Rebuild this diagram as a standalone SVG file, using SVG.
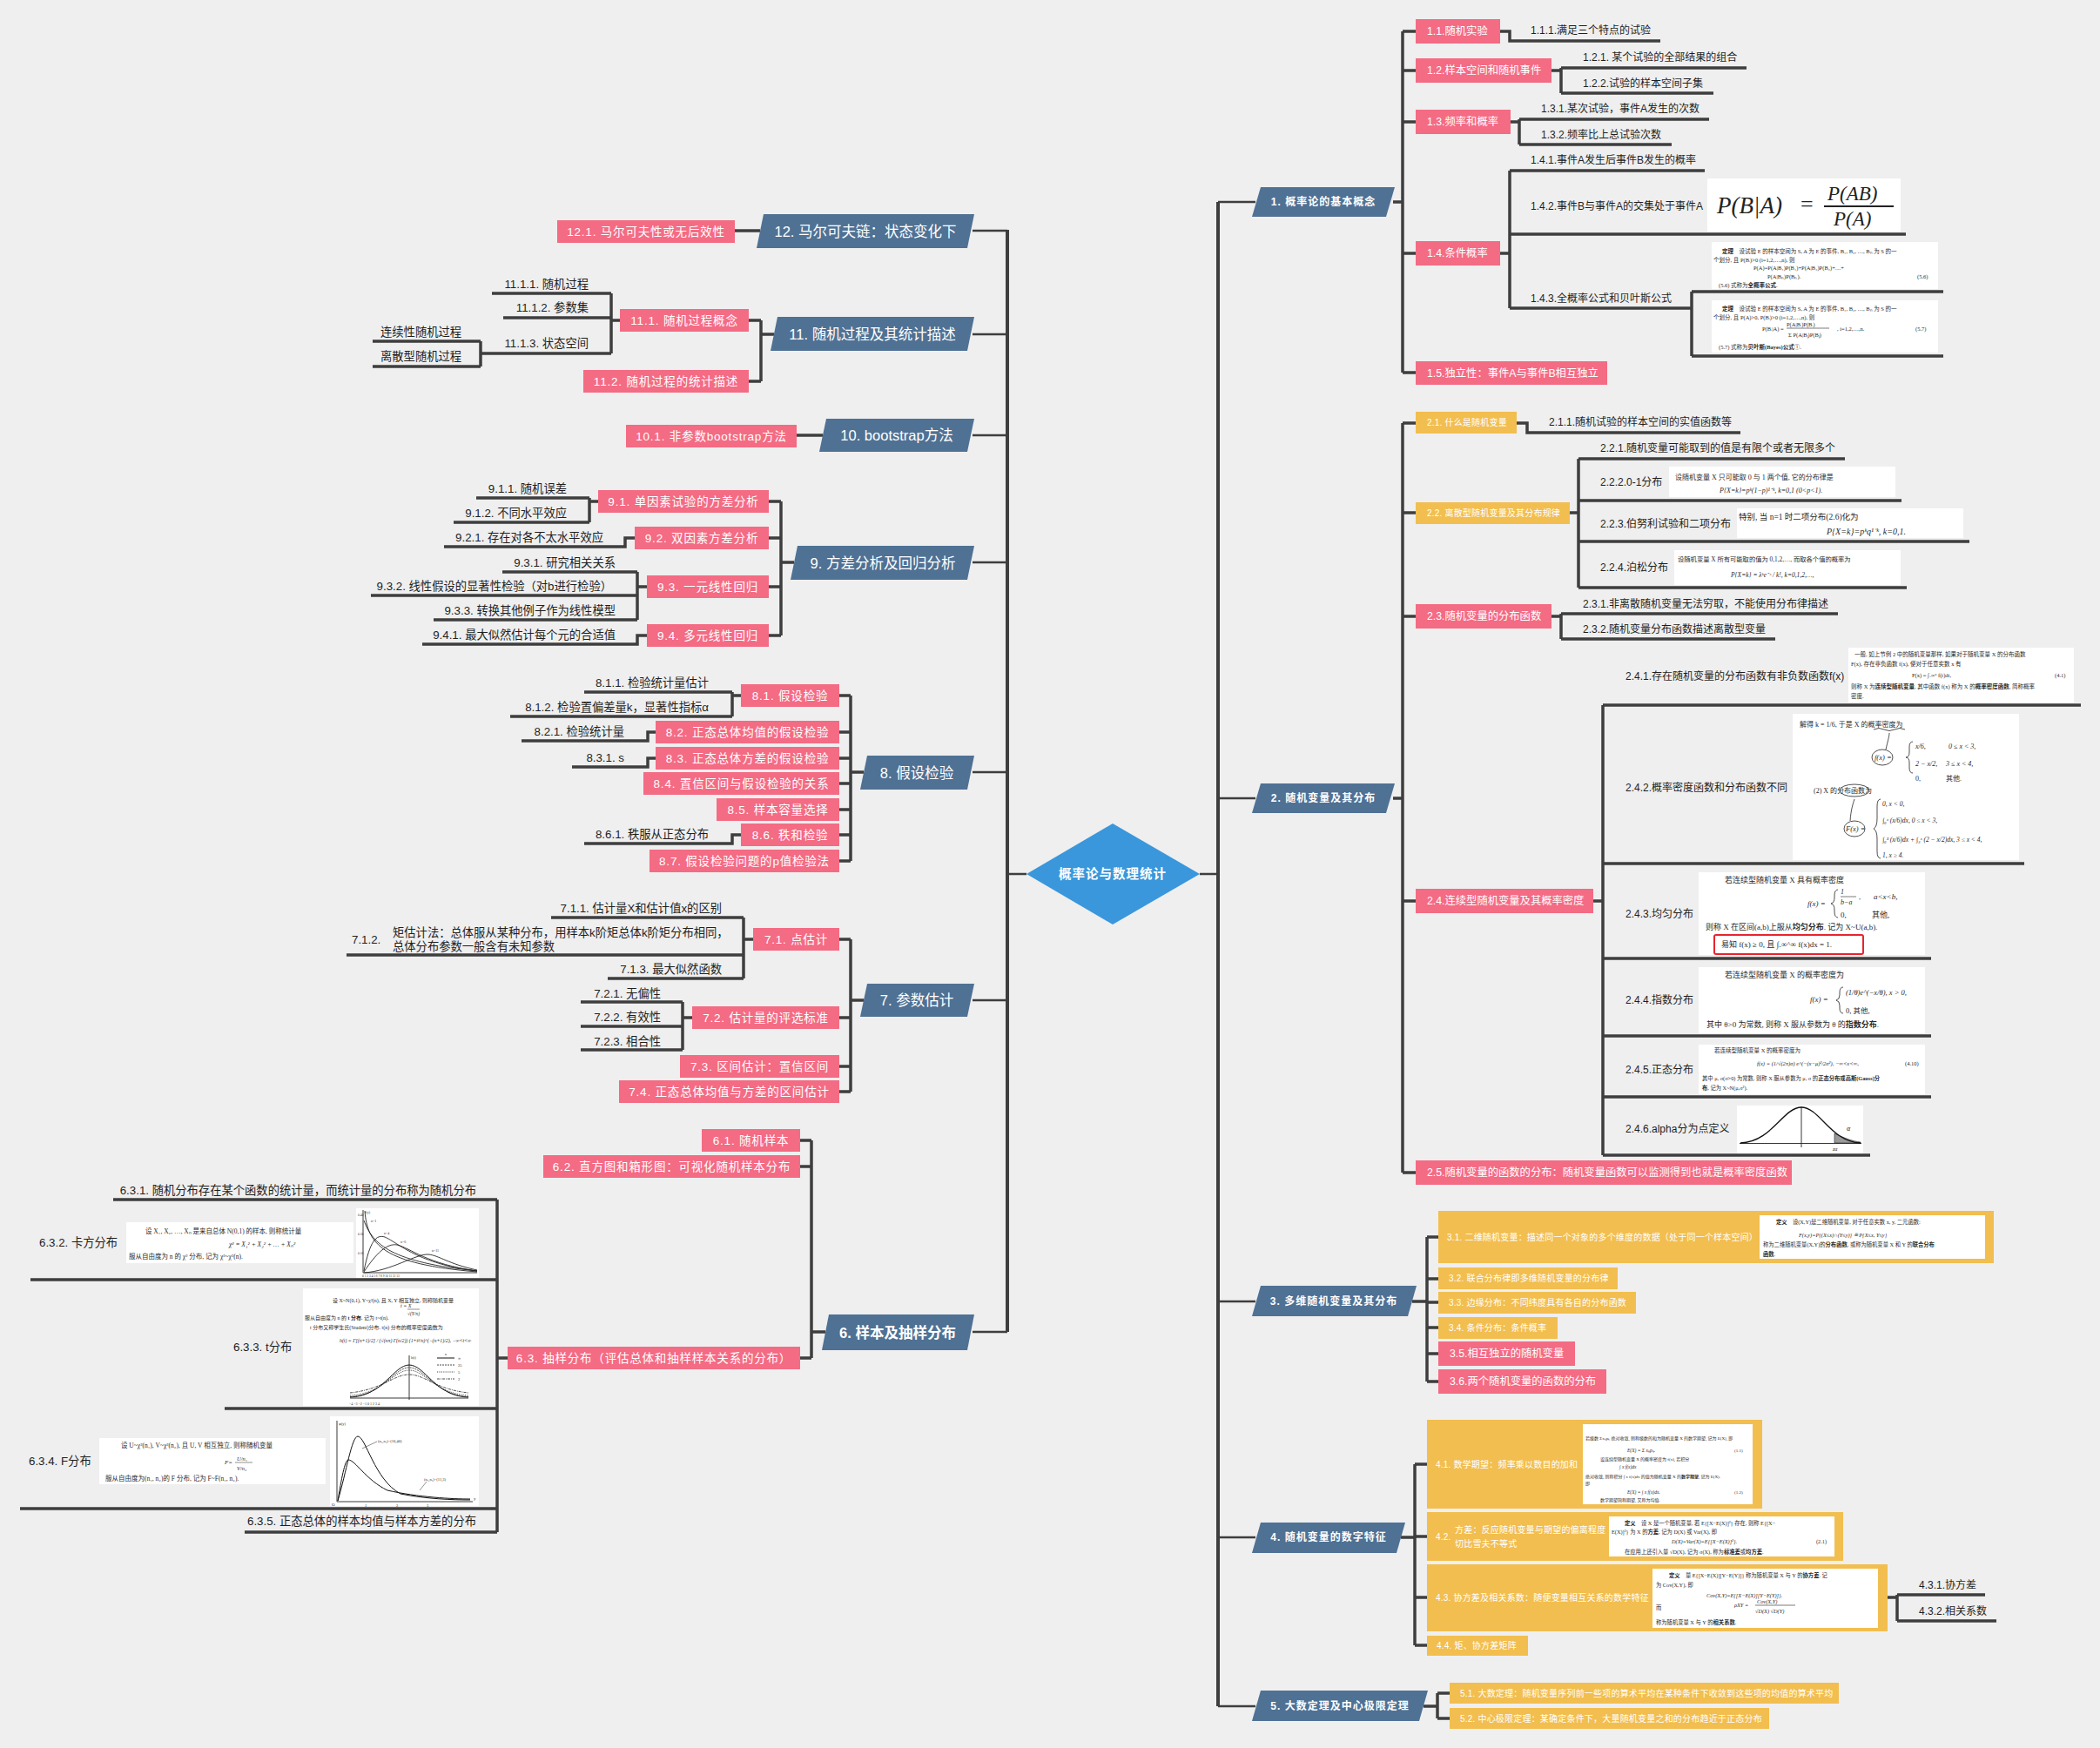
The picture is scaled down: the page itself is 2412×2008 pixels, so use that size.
<svg xmlns="http://www.w3.org/2000/svg" width="2412" height="2008" viewBox="0 0 2412 2008">
<style>
.bg{fill:#EFEFEF}
.c{fill:none;stroke:#3E3E3E;stroke-width:3.5;stroke-linejoin:miter}
.tk{fill:none;stroke:#3E3E3E;stroke-width:4}
.st{fill:none;stroke:#3E3E3E;stroke-width:2.5}
.bl{fill:#4F7194}
.pk{fill:#F46B84}
.yl{fill:#F2BE4F}
.im{fill:#FFFFFF}
.ax{fill:none;stroke:#222;stroke-width:0.9}
text{font-family:"Liberation Sans","Noto Sans CJK SC",sans-serif;dominant-baseline:central}
.t{font-size:12px;fill:#1E1E1E}
.tl{font-size:13.3px;fill:#1E1E1E}
.wp{font-size:12.3px;fill:#FFFFFF}
.wl{font-size:13.5px;fill:#FFFFFF;letter-spacing:0.8px}
.wy{font-size:10px;fill:#FFFFFF;letter-spacing:0.2px}
.h1{font-size:12px;font-weight:bold;fill:#FFFFFF;letter-spacing:1px}
.h2{font-size:16.5px;fill:#FFFFFF}
.m{font-family:"Liberation Serif","Noto Sans CJK SC",serif;font-size:7px;fill:#2A2A2A}
.mi{font-family:"Liberation Serif","Noto Sans CJK SC",serif;font-style:italic;fill:#222}
</style>
<rect class="bg" x="0" y="0" width="2412" height="2008"/>

<g id="connectors">
<path class="st" d="M1378 1004 H1399 M1179 1004 H1157"/>
<path class="tk" d="M1399 232 V1960 M1157 264 V1530"/>
<path class="st" d="M1399 232 H1442 M1399 917 H1442 M1399 1495 H1442 M1399 1766 H1442 M1399 1960 H1442"/>
<path class="st" d="M1157 265 H1117 M1157 384 H1117 M1157 500 H1117 M1157 646 H1117 M1157 887 H1117 M1157 1149 H1117 M1157 1530 H1117"/>
<path class="c" d="M1600 232 H1611 M1611 36 V428 M1611 36 H1626 M1611 81 H1626 M1611 140 H1626 M1611 291 H1626 M1611 428 H1626"/>
<path class="c" d="M1723 36 H1734 V47 H1907"/>
<path class="c" d="M1782 81 H1793 M1793 78 V107 M1793 78 H2006 M1793 107 H1968"/>
<path class="c" d="M1735 140 H1745 M1745 137 V166 M1745 137 H1963 M1745 166 H1920"/>
<path class="c" d="M1723 291 H1734 M1734 196 V354 M1734 196 H1958 M1734 269 H2189 M1734 354 H1943 M1943 335 V409 M1943 335 H2232 M1943 409 H2232"/>
<path class="c" d="M1600 917 H1611 M1611 486 V1347 M1611 486 H1626 M1611 589 H1626 M1611 708 H1626 M1611 1035 H1626 M1611 1347 H1626"/>
<path class="c" d="M1742 486 H1754 V497 H1999"/>
<path class="c" d="M1803 589 H1813 M1813 527 V675 M1813 527 H2119 M1813 575 H2184 M1813 622 H2262 M1813 675 H2190"/>
<path class="c" d="M1782 708 H1793 M1793 705 V734 M1793 705 H2111 M1793 734 H2039"/>
<path class="c" d="M1830 1035 H1841 M1841 810 V1327 M1841 810 H2390 M1841 992 H2325 M1841 1101 H2218 M1841 1190 H2218 M1841 1260 H2218 M1841 1327 H2148"/>
<path class="c" d="M1622 1495 H1639 M1639 1421 V1587 M1639 1421 H1652 M1639 1469 H1652 M1639 1496 H1652 M1639 1525 H1652 M1639 1555 H1652 M1639 1587 H1652"/>
<path class="c" d="M1609 1766 H1625 M1625 1682 V1890 M1625 1682 H1639 M1625 1765 H1639 M1625 1835 H1639 M1625 1890 H1639"/>
<path class="c" d="M2168 1835 H2179 M2179 1832 V1862 M2179 1832 H2280 M2179 1862 H2293"/>
<path class="c" d="M1635 1960 H1651 M1651 1945 V1974 M1651 1945 H1665 M1651 1974 H1665"/>
<path class="c" d="M873 265 H844"/>
<path class="c" d="M889 384 H874 M874 368 V438 M874 368 H860 M874 438 H860"/>
<path class="c" d="M712 368 H702 M702 337 V406 M702 337 H565 M702 365 H578 M702 406 H553 M552 392 V421 M552 392 H428 M552 421 H428"/>
<path class="c" d="M945 500 H915"/>
<path class="c" d="M912 646 H897 M897 576 V730 M897 576 H883 M897 618 H883 M897 674 H883 M897 730 H883"/>
<path class="c" d="M687 576 H677 M677 572 V600 M677 572 H547 M677 600 H521"/>
<path class="c" d="M729 618 H718 V628 H510"/>
<path class="c" d="M743 674 H732 M732 657 V712 M732 657 H577 M732 684 H426 M732 712 H498"/>
<path class="c" d="M743 730 H732 V740 H485"/>
<path class="c" d="M992 887 H977 M977 799 V989 M977 799 H964 M977 841 H964 M977 871 H964 M977 900 H964 M977 930 H964 M977 959 H964 M977 989 H964"/>
<path class="c" d="M851 799 H841 M841 795 V823 M841 795 H671 M841 823 H586"/>
<path class="c" d="M753 841 H744 V851 H599 M753 871 H744 V881 H657 M851 959 H841 V969 H671"/>
<path class="c" d="M992 1149 H977 M977 1079 V1254 M977 1079 H964 M977 1169 H964 M977 1225 H964 M977 1254 H964"/>
<path class="c" d="M865 1079 H854 M854 1054 V1124 M854 1054 H633 M854 1097 H398 M854 1124 H698"/>
<path class="c" d="M795 1169 H784 M784 1151 V1206 M784 1151 H667 M784 1179 H667 M784 1206 H667"/>
<path class="c" d="M948 1530 H932 M932 1310 V1560 M932 1310 H919 M932 1340 H919 M932 1560 H919"/>
<path class="c" d="M583 1560 H571 M571 1378 V1760 M571 1378 H130 M571 1470 H35 M571 1618 H258 M571 1733 H23 M571 1760 H281"/>
</g>

<g id="center">
<polygon points="1179,1004 1278,946 1378,1004 1278,1062" fill="#3A97DB"/>
<text x="1278" y="1004" text-anchor="middle" style="font-size:14.5px;font-weight:bold;fill:#FFFFFF;letter-spacing:1px">概率论与数理统计</text>
</g>

<!-- right main nodes -->
<g id="n1"><polygon class="bl" points="1448,215 1602,215 1592,249 1438,249"/><text class="h1" x="1520" y="232" text-anchor="middle">1. 概率论的基本概念</text></g>
<g id="n2"><polygon class="bl" points="1448,900 1602,900 1592,934 1438,934"/><text class="h1" x="1520" y="917" text-anchor="middle">2. 随机变量及其分布</text></g>
<g id="n3"><polygon class="bl" points="1448,1477 1627,1477 1617,1512 1438,1512"/><text class="h1" x="1532" y="1495" text-anchor="middle">3. 多维随机变量及其分布</text></g>
<g id="n4"><polygon class="bl" points="1448,1749 1614,1749 1604,1784 1438,1784"/><text class="h1" x="1526" y="1766" text-anchor="middle">4. 随机变量的数字特征</text></g>
<g id="n5"><polygon class="bl" points="1448,1942 1640,1942 1630,1977 1438,1977"/><text class="h1" x="1539" y="1960" text-anchor="middle">5. 大数定理及中心极限定理</text></g>

<!-- branch 1 -->
<g id="n1-1"><rect class="pk" x="1626" y="22" width="97" height="28"/><text class="wp" x="1639" y="36">1.1.随机实验</text></g>
<g id="n1-1-1"><text class="t" x="1758" y="35">1.1.1.满足三个特点的试验</text></g>
<g id="n1-2"><rect class="pk" x="1626" y="67" width="156" height="28"/><text class="wp" x="1639" y="81">1.2.样本空间和随机事件</text></g>
<g id="n1-2-1"><text class="t" x="1818" y="66">1.2.1. 某个试验的全部结果的组合</text></g>
<g id="n1-2-2"><text class="t" x="1818" y="96">1.2.2.试验的样本空间子集</text></g>
<g id="n1-3"><rect class="pk" x="1626" y="126" width="109" height="28"/><text class="wp" x="1639" y="140">1.3.频率和概率</text></g>
<g id="n1-3-1"><text class="t" x="1770" y="125">1.3.1.某次试验，事件A发生的次数</text></g>
<g id="n1-3-2"><text class="t" x="1770" y="155">1.3.2.频率比上总试验次数</text></g>
<g id="n1-4"><rect class="pk" x="1626" y="277" width="97" height="28"/><text class="wp" x="1639" y="291">1.4.条件概率</text></g>
<g id="n1-4-1"><text class="t" x="1758" y="184">1.4.1.事件A发生后事件B发生的概率</text></g>
<g id="n1-4-2"><text class="t" x="1758" y="237">1.4.2.事件B与事件A的交集处于事件A</text>
<rect class="im" x="1961" y="205" width="222" height="61"/>
<text class="mi" x="1972" y="236" style="font-size:27px">P(B|A)</text>
<text class="mi" x="2068" y="234" style="font-size:26px;font-style:normal">=</text>
<text class="mi" x="2099" y="222" style="font-size:23px">P(AB)</text>
<path d="M2095 237 H2175" stroke="#222" stroke-width="2"/>
<text class="mi" x="2106" y="251" style="font-size:23px">P(A)</text>
</g>
<g id="n1-4-3"><text class="t" x="1758" y="343">1.4.3.全概率公式和贝叶斯公式</text>
<rect class="im" x="1966" y="278" width="260" height="54"/>
<text class="m" x="1978" y="288" style="font-size:6.5px"><tspan font-weight="bold">定理</tspan>　设试验 E 的样本空间为 S, A 为 E 的事件, B₁, B₂, …, Bₙ 为 S 的一</text>
<text class="m" x="1968" y="298" style="font-size:6.5px">个划分, 且 P(Bᵢ)&gt;0 (i=1,2,…,n), 则</text>
<text class="m" x="2014" y="307" style="font-size:6.5px">P(A)=P(A|B₁)P(B₁)+P(A|B₂)P(B₂)+…+</text>
<text class="m" x="2030" y="317" style="font-size:6.5px">P(A|Bₙ)P(Bₙ).</text>
<text class="m" x="2202" y="317" style="font-size:6.5px">(5.6)</text>
<text class="m" x="1974" y="327" style="font-size:6.5px">(5.6) 式称为<tspan font-weight="bold">全概率公式</tspan>.</text>
<rect class="im" x="1966" y="345" width="260" height="60"/>
<text class="m" x="1978" y="354" style="font-size:6.5px"><tspan font-weight="bold">定理</tspan>　设试验 E 的样本空间为 S, A 为 E 的事件, B₁, B₂, …, Bₙ 为 S 的一</text>
<text class="m" x="1968" y="364" style="font-size:6.5px">个划分, 且 P(A)&gt;0, P(Bᵢ)&gt;0 (i=1,2,…,n), 则</text>
<text class="m" x="2052" y="372" style="font-size:6.5px">P(A|Bᵢ)P(Bᵢ)</text>
<text class="m" x="2024" y="377" style="font-size:6.5px">P(Bᵢ|A) =</text>
<path d="M2052 377 H2101" stroke="#222" stroke-width="0.6"/>
<text class="m" x="2054" y="384" style="font-size:6.5px">Σ P(A|Bⱼ)P(Bⱼ)</text>
<text class="m" x="2110" y="377" style="font-size:6.5px">,  i=1,2,…,n.</text>
<text class="m" x="2200" y="377" style="font-size:6.5px">(5.7)</text>
<text class="m" x="1974" y="398" style="font-size:6.5px">(5.7) 式称为<tspan font-weight="bold">贝叶斯(Bayes)公式</tspan>①.</text>
</g>
<g id="n1-5"><rect class="pk" x="1626" y="415" width="220" height="27"/><text class="wp" x="1639" y="428.5">1.5.独立性：事件A与事件B相互独立</text></g>

<!-- branch 2 -->
<g id="n2-1"><rect class="yl" x="1626" y="473" width="116" height="25"/><text class="wy" x="1639" y="485.5">2.1. 什么是随机变量</text></g>
<g id="n2-1-1"><text class="t" x="1779" y="485">2.1.1.随机试验的样本空间的实值函数等</text></g>
<g id="n2-2"><rect class="yl" x="1626" y="577" width="177" height="25"/><text class="wy" x="1639" y="589.5">2.2. 离散型随机变量及其分布规律</text></g>
<g id="n2-2-1"><text class="t" x="1838" y="515">2.2.1.随机变量可能取到的值是有限个或者无限多个</text></g>
<g id="n2-2-2"><text class="t" x="1838" y="554">2.2.2.0-1分布</text>
<rect class="im" x="1917" y="536" width="260" height="35"/>
<text class="m" x="1924" y="548" style="font-size:8px">设随机变量 X 只可能取 0 与 1 两个值, 它的分布律是</text>
<text class="m" x="1975" y="563" style="font-size:8px;font-style:italic">P{X=k}=pᵏ(1−p)¹⁻ᵏ, k=0,1   (0&lt;p&lt;1).</text>
</g>
<g id="n2-2-3"><text class="t" x="1838" y="602">2.2.3.伯努利试验和二项分布</text>
<rect class="im" x="1995" y="584" width="260" height="34"/>
<text class="m" x="1997" y="594" style="font-size:9.5px">特别, 当 n=1 时二项分布(2.6)化为</text>
<text class="m" x="2098" y="610" style="font-size:10px;font-style:italic">P{X=k}=pᵏq¹⁻ᵏ,   k=0,1.</text>
</g>
<g id="n2-2-4"><text class="t" x="1838" y="652">2.2.4.泊松分布</text>
<rect class="im" x="1923" y="632" width="260" height="40"/>
<text class="m" x="1927" y="642" style="font-size:7.3px">设随机变量 X 所有可能取的值为 0,1,2,…, 而取各个值的概率为</text>
<text class="m" x="1988" y="660" style="font-size:7.5px;font-style:italic">P{X=k} = λᵏe⁻ᶺ / k!,  k=0,1,2,…,</text>
</g>
<g id="n2-3"><rect class="pk" x="1626" y="694" width="156" height="28"/><text class="wp" x="1639" y="708">2.3.随机变量的分布函数</text></g>
<g id="n2-3-1"><text class="t" x="1818" y="694">2.3.1.非离散随机变量无法穷取，不能使用分布律描述</text></g>
<g id="n2-3-2"><text class="t" x="1818" y="723">2.3.2.随机变量分布函数描述离散型变量</text></g>
<g id="n2-4"><rect class="pk" x="1626" y="1021" width="204" height="28"/><text class="wp" x="1639" y="1035">2.4.连续型随机变量及其概率密度</text></g>
<g id="n2-4-1"><text class="t" x="1867" y="777">2.4.1.存在随机变量的分布函数有非负数函数f(x)</text>
<rect class="im" x="2123" y="744" width="259" height="63"/>
<text class="m" x="2130" y="751" style="font-size:6.5px">一般, 如上节例 2 中的随机变量那样, 如果对于随机变量 X 的分布函数</text>
<text class="m" x="2126" y="762" style="font-size:6.5px">F(x), 存在非负函数 f(x), 使对于任意实数 x 有</text>
<text class="m" x="2196" y="775" style="font-size:6.5px">F(x) = ∫₋∞ˣ f(t)dt,</text>
<text class="m" x="2360" y="775" style="font-size:6.5px">(4.1)</text>
<text class="m" x="2126" y="788" style="font-size:6.5px">则称 X 为<tspan font-weight="bold">连续型随机变量</tspan>, 其中函数 f(x) 称为 X 的<tspan font-weight="bold">概率密度函数</tspan>, 简称概率</text>
<text class="m" x="2126" y="799" style="font-size:6.5px">密度.</text>
</g>
<g id="n2-4-2"><text class="t" x="1867" y="905">2.4.2.概率密度函数和分布函数不同</text>
<rect class="im" x="2059" y="820" width="260" height="168"/>
<text class="m" x="2067" y="832" style="font-size:8px">解得 k = 1/6, 于是 X 的概率密度为</text>
<path d="M2152 838 q6 -3 12 0 t12 0 t12 0" fill="none" stroke="#222" stroke-width="0.8"/>
<text class="m" x="2153" y="870" style="font-size:8.5px;font-style:italic">f(x) =</text>
<ellipse cx="2162" cy="870" rx="12" ry="9" fill="none" stroke="#222" stroke-width="0.8"/>
<path d="M2166 861 C2168 852 2170 846 2170 842" fill="none" stroke="#222" stroke-width="0.8"/>
<path d="M2197 852 q-4 0 -4 6 v6 q0 6 -4 6 q4 0 4 6 v6 q0 6 4 6" fill="none" stroke="#222" stroke-width="0.8"/>
<text class="m" x="2200" y="857" style="font-size:8px;font-style:italic">x/6,</text>
<text class="m" x="2238" y="857" style="font-size:8px;font-style:italic">0 ≤ x &lt; 3,</text>
<text class="m" x="2200" y="877" style="font-size:8px;font-style:italic">2 − x/2,</text>
<text class="m" x="2235" y="877" style="font-size:8px;font-style:italic">3 ≤ x &lt; 4,</text>
<text class="m" x="2200" y="894" style="font-size:8px">0,</text>
<text class="m" x="2235" y="894" style="font-size:8px">其他.</text>
<text class="m" x="2083" y="908" style="font-size:8px">(2) X 的分布函数为</text>
<ellipse cx="2130" cy="908" rx="17" ry="7" fill="none" stroke="#222" stroke-width="0.8"/>
<text class="m" x="2120" y="952" style="font-size:8.5px;font-style:italic">F(x) =</text>
<ellipse cx="2130" cy="952" rx="12" ry="9" fill="none" stroke="#222" stroke-width="0.8"/>
<path d="M2125 943 C2126 930 2128 924 2130 918" fill="none" stroke="#222" stroke-width="0.8"/>
<path d="M2160 918 q-4 0 -4 8 v14 q0 10 -4 12 q4 2 4 12 v14 q0 8 4 8" fill="none" stroke="#222" stroke-width="0.8"/>
<text class="m" x="2162" y="923" style="font-size:7.5px;font-style:italic">0,    x &lt; 0,</text>
<text class="m" x="2162" y="942" style="font-size:7.5px;font-style:italic">∫₀ˣ (x/6)dx,   0 ≤ x &lt; 3,</text>
<text class="m" x="2162" y="964" style="font-size:7.5px;font-style:italic">∫₀³ (x/6)dx + ∫₃ˣ (2 − x/2)dx,   3 ≤ x &lt; 4,</text>
<text class="m" x="2162" y="982" style="font-size:7.5px;font-style:italic">1,    x ≥ 4.</text>
</g>
<g id="n2-4-3"><text class="t" x="1867" y="1050">2.4.3.均匀分布</text>
<rect class="im" x="1951" y="1002" width="260" height="95"/>
<text class="m" x="1981" y="1011" style="font-size:9px">若连续型随机变量 X 具有概率密度</text>
<text class="m" x="2076" y="1038" style="font-size:9px;font-style:italic">f(x) =</text>
<path d="M2111 1022 q-4 0 -4 7 v2 q0 6 -4 7 q4 1 4 7 v2 q0 7 4 7" fill="none" stroke="#222" stroke-width="0.8"/>
<text class="m" x="2114" y="1024" style="font-size:8px;font-style:italic">   1</text>
<path d="M2114 1030 H2132" stroke="#222" stroke-width="0.6"/>
<text class="m" x="2114" y="1036" style="font-size:8px;font-style:italic">b−a</text>
<text class="m" x="2135" y="1030" style="font-size:8px">,</text>
<text class="m" x="2152" y="1030" style="font-size:9px;font-style:italic">a&lt;x&lt;b,</text>
<text class="m" x="2114" y="1051" style="font-size:9px">0,</text>
<text class="m" x="2150" y="1051" style="font-size:9px">其他,</text>
<text class="m" x="1959" y="1065" style="font-size:9px">则称 X 在区间(a,b)上服从<tspan font-weight="bold">均匀分布</tspan>. 记为 X~U(a,b).</text>
<rect x="1969" y="1074" width="171" height="22" rx="2" fill="none" stroke="#E8242E" stroke-width="2"/>
<text class="m" x="1977" y="1085" style="font-size:9px">易知 f(x) ≥ 0, 且 ∫₋∞^∞ f(x)dx = 1.</text>
</g>
<g id="n2-4-4"><text class="t" x="1867" y="1149">2.4.4.指数分布</text>
<rect class="im" x="1951" y="1111" width="260" height="76"/>
<text class="m" x="1981" y="1120" style="font-size:9px">若连续型随机变量 X 的概率密度为</text>
<text class="m" x="2079" y="1148" style="font-size:9px;font-style:italic">f(x) =</text>
<path d="M2117 1134 q-4 0 -4 6 v3 q0 5 -4 6 q4 1 4 6 v3 q0 6 4 6" fill="none" stroke="#222" stroke-width="0.8"/>
<text class="m" x="2120" y="1140" style="font-size:8.5px;font-style:italic">(1/θ)e^(−x/θ), x &gt; 0,</text>
<text class="m" x="2120" y="1161" style="font-size:8.5px">0,        其他,</text>
<text class="m" x="1960" y="1177" style="font-size:9px">其中 θ&gt;0 为常数, 则称 X 服从参数为 θ 的<tspan font-weight="bold">指数分布</tspan>.</text>
</g>
<g id="n2-4-5"><text class="t" x="1867" y="1229">2.4.5.正态分布</text>
<rect class="im" x="1951" y="1200" width="260" height="57"/>
<text class="m" x="1969" y="1206" style="font-size:6.5px">若连续型随机变量 X 的概率密度为</text>
<text class="m" x="2018" y="1221" style="font-size:6.5px;font-style:italic">f(x) = (1/√(2π)σ) e^(−(x−μ)²/2σ²),  −∞&lt;x&lt;∞,</text>
<text class="m" x="2188" y="1221" style="font-size:6.5px">(4.10)</text>
<text class="m" x="1955" y="1238" style="font-size:6.3px">其中 μ, σ(σ&gt;0) 为常数, 则称 X 服从参数为 μ, σ 的<tspan font-weight="bold">正态分布或高斯(Gauss)分</tspan></text>
<text class="m" x="1955" y="1249" style="font-size:6.3px"><tspan font-weight="bold">布</tspan>, 记为 X~N(μ,σ²).</text>
</g>
<g id="n2-4-6"><text class="t" x="1867" y="1297">2.4.6.alpha分为点定义</text>
<rect class="im" x="1995" y="1270" width="145" height="55"/>
<path d="M2107 1313 V1302 C2118 1307 2127 1311 2137 1312 V1313 Z" fill="#9A9A9A" stroke="#222" stroke-width="0.6"/>
<path class="ax" d="M1998 1313.5 H2138 M2069 1271 V1318"/>
<path d="M1999 1313 C2035 1312 2048 1272 2069 1272 C2090 1272 2103 1312 2137 1313" fill="none" stroke="#111" stroke-width="1.3"/>
<text class="mi" x="2121" y="1296" style="font-size:8px">α</text>
<text class="mi" x="2105" y="1320" style="font-size:6px">zα</text>
</g>
<g id="n2-5"><rect class="pk" x="1626" y="1333" width="432" height="28"/><text class="wp" x="1639" y="1347">2.5.随机变量的函数的分布：随机变量函数可以监测得到也就是概率密度函数</text></g>

<!-- branch 3 -->
<g id="n3-1"><rect class="yl" x="1652" y="1391" width="638" height="60"/><text class="wy" x="1662" y="1421">3.1. 二维随机变量：描述同一个对象的多个维度的数据（处于同一个样本空间）</text>
<rect class="im" x="2021" y="1396" width="259" height="50"/>
<text class="m" x="2040" y="1403" style="font-size:6.3px"><tspan font-weight="bold">定义</tspan>　设(X,Y)是二维随机变量, 对于任意实数 x, y, 二元函数:</text>
<text class="m" x="2066" y="1418" style="font-size:6.3px;font-style:italic">F(x,y)=P{(X≤x)∩(Y≤y)} ≝ P{X≤x, Y≤y}</text>
<text class="m" x="2025" y="1429" style="font-size:6.3px">称为二维随机变量(X,Y)的<tspan font-weight="bold">分布函数</tspan>, 或称为随机变量 X 和 Y 的<tspan font-weight="bold">联合分布</tspan></text>
<text class="m" x="2025" y="1440" style="font-size:6.3px"><tspan font-weight="bold">函数</tspan>.</text>
</g>
<g id="n3-2"><rect class="yl" x="1652" y="1456" width="206" height="25"/><text class="wy" x="1664" y="1468.5">3.2. 联合分布律即多维随机变量的分布律</text></g>
<g id="n3-3"><rect class="yl" x="1652" y="1484" width="227" height="25"/><text class="wy" x="1664" y="1496.5">3.3. 边缘分布：不同纬度具有各自的分布函数</text></g>
<g id="n3-4"><rect class="yl" x="1652" y="1513" width="137" height="25"/><text class="wy" x="1664" y="1525.5">3.4. 条件分布：条件概率</text></g>
<g id="n3-5"><rect class="pk" x="1652" y="1541" width="157" height="28"/><text class="wp" x="1665" y="1555">3.5.相互独立的随机变量</text></g>
<g id="n3-6"><rect class="pk" x="1652" y="1573" width="193" height="28"/><text class="wp" x="1665" y="1587">3.6.两个随机变量的函数的分布</text></g>

<!-- branch 4 -->
<g id="n4-1"><rect class="yl" x="1639" y="1631" width="385" height="102"/><text class="wy" x="1649" y="1682">4.1. 数学期望：频率乘以数目的加和</text>
<rect class="im" x="1818" y="1636" width="195" height="92"/>
<text class="m" x="1821" y="1652" style="font-size:5px">若级数 Σxₖpₖ 绝对收敛, 则称级数的和为随机变量 X 的数学期望, 记为 E(X), 即</text>
<text class="m" x="1869" y="1666" style="font-size:5.5px;font-style:italic">E(X) = Σ xₖpₖ.</text>
<text class="m" x="1992" y="1666" style="font-size:5px">(1.1)</text>
<text class="m" x="1838" y="1676" style="font-size:5px">设连续型随机变量 X 的概率密度为 f(x), 若积分</text>
<text class="m" x="1860" y="1685" style="font-size:5.5px;font-style:italic">∫ x f(x)dx</text>
<text class="m" x="1821" y="1696" style="font-size:5px">绝对收敛, 则称积分 ∫ x f(x)dx 的值为随机变量 X 的<tspan font-weight="bold">数学期望</tspan>, 记为 E(X).</text>
<text class="m" x="1821" y="1704" style="font-size:5px">即</text>
<text class="m" x="1869" y="1714" style="font-size:5.5px;font-style:italic">E(X) = ∫ x f(x)dx.</text>
<text class="m" x="1992" y="1714" style="font-size:5px">(1.2)</text>
<text class="m" x="1838" y="1723" style="font-size:5px">数学期望简称期望, 又称为均值.</text>
</g>
<g id="n4-2"><rect class="yl" x="1639" y="1737" width="478" height="56"/>
<text class="wy" x="1649" y="1765">4.2.</text>
<text class="wy" x="1671" y="1757">方差：反应随机变量与期望的偏离程度</text>
<text class="wy" x="1671" y="1773">切比雪夫不等式</text>
<rect class="im" x="1848" y="1742" width="259" height="46"/>
<text class="m" x="1866" y="1749" style="font-size:6.3px"><tspan font-weight="bold">定义</tspan>　设 X 是一个随机变量, 若 E{[X−E(X)]²} 存在, 则称 E{[X−</text>
<text class="m" x="1851" y="1759" style="font-size:6.3px">E(X)]²} 为 X 的<tspan font-weight="bold">方差</tspan>, 记为 D(X) 或 Var(X), 即</text>
<text class="m" x="1920" y="1770" style="font-size:6.3px;font-style:italic">D(X)=Var(X)=E{[X−E(X)]²}.</text>
<text class="m" x="2086" y="1770" style="font-size:6.3px">(2.1)</text>
<text class="m" x="1866" y="1782" style="font-size:6.3px">在应用上还引入量 √D(X), 记为 σ(X), 称为<tspan font-weight="bold">标准差</tspan>或<tspan font-weight="bold">均方差</tspan>.</text>
</g>
<g id="n4-3"><rect class="yl" x="1639" y="1797" width="529" height="77"/><text class="wy" x="1649" y="1835">4.3. 协方差及相关系数：随便变量相互关系的数学特征</text>
<rect class="im" x="1898" y="1802" width="259" height="68"/>
<text class="m" x="1917" y="1809" style="font-size:6.3px"><tspan font-weight="bold">定义</tspan>　量 E{[X−E(X)][Y−E(Y)]} 称为随机变量 X 与 Y 的<tspan font-weight="bold">协方差</tspan>. 记</text>
<text class="m" x="1902" y="1820" style="font-size:6.3px">为 Cov(X,Y), 即</text>
<text class="m" x="1960" y="1832" style="font-size:6.3px;font-style:italic">Cov(X,Y)=E{[X−E(X)][Y−E(Y)]}.</text>
<text class="m" x="1902" y="1846" style="font-size:6.3px">而</text>
<text class="m" x="1992" y="1843" style="font-size:6.3px;font-style:italic">ρXY =</text>
<text class="m" x="2018" y="1839" style="font-size:6.3px;font-style:italic">  Cov(X,Y)</text>
<path d="M2016 1844 H2062" stroke="#222" stroke-width="0.6"/>
<text class="m" x="2016" y="1850" style="font-size:6.3px;font-style:italic">√D(X) √D(Y)</text>
<text class="m" x="1902" y="1863" style="font-size:6.3px">称为随机变量 X 与 Y 的<tspan font-weight="bold">相关系数</tspan>.</text>
</g>
<g id="n4-3-1"><text class="t" x="2204" y="1821">4.3.1.协方差</text></g>
<g id="n4-3-2"><text class="t" x="2204" y="1851">4.3.2.相关系数</text></g>
<g id="n4-4"><rect class="yl" x="1639" y="1879" width="116" height="23"/><text class="wy" x="1650" y="1890.5">4.4. 矩、协方差矩阵</text></g>

<!-- branch 5 -->
<g id="n5-1"><rect class="yl" x="1665" y="1933" width="447" height="24"/><text class="wy" x="1677" y="1945">5.1. 大数定理：随机变量序列前一些项的算术平均在某种条件下收敛到这些项的均值的算术平均</text></g>
<g id="n5-2"><rect class="yl" x="1665" y="1962" width="367" height="24"/><text class="wy" x="1677" y="1974">5.2. 中心极限定理：某确定条件下，大量随机变量之和的分布趋近于正态分布</text></g>

<!-- left main nodes -->
<g id="n12"><polygon class="bl" points="877,246 1119,246 1111,285 869,285"/><text class="h2" x="994" y="265.5" text-anchor="middle">12. 马尔可夫链：状态变化下</text></g>
<g id="n11"><polygon class="bl" points="893,364 1119,364 1111,403 885,403"/><text class="h2" x="1002" y="384" text-anchor="middle">11. 随机过程及其统计描述</text></g>
<g id="n10"><polygon class="bl" points="949,481 1119,481 1111,519 941,519"/><text class="h2" x="1030" y="500" text-anchor="middle">10. bootstrap方法</text></g>
<g id="n9"><polygon class="bl" points="916,627 1119,627 1111,666 908,666"/><text class="h2" x="1014" y="646.5" text-anchor="middle">9. 方差分析及回归分析</text></g>
<g id="n8"><polygon class="bl" points="996,868 1119,868 1111,907 988,907"/><text class="h2" x="1053" y="887.5" text-anchor="middle">8. 假设检验</text></g>
<g id="n7"><polygon class="bl" points="996,1130 1119,1130 1111,1168 988,1168"/><text class="h2" x="1053" y="1149" text-anchor="middle">7. 参数估计</text></g>
<g id="n6"><polygon class="bl" points="952,1510 1119,1510 1111,1551 944,1551"/><text class="h2" x="1031" y="1530.5" text-anchor="middle" font-weight="bold">6. 样本及抽样分布</text></g>

<!-- branch 12 -->
<g id="n12-1"><rect class="pk" x="640" y="253" width="204" height="26"/><text class="wl" x="742" y="266" text-anchor="middle">12.1. 马尔可夫性或无后效性</text></g>
<!-- branch 11 -->
<g id="n11-1"><rect class="pk" x="712" y="355" width="148" height="26"/><text class="wl" x="786" y="368" text-anchor="middle">11.1. 随机过程概念</text></g>
<g id="n11-1-1"><text class="tl" x="676" y="326" text-anchor="end">11.1.1. 随机过程</text></g>
<g id="n11-1-2"><text class="tl" x="676" y="353" text-anchor="end">11.1.2. 参数集</text></g>
<g id="n11-1-3"><text class="tl" x="676" y="394" text-anchor="end">11.1.3. 状态空间</text></g>
<g id="n11-1-3-1"><text class="tl" x="437" y="381">连续性随机过程</text></g>
<g id="n11-1-3-2"><text class="tl" x="437" y="409">离散型随机过程</text></g>
<g id="n11-2"><rect class="pk" x="670" y="425" width="190" height="26"/><text class="wl" x="765" y="438" text-anchor="middle">11.2. 随机过程的统计描述</text></g>
<!-- branch 10 -->
<g id="n10-1"><rect class="pk" x="719" y="488" width="196" height="26"/><text class="wl" x="817" y="501" text-anchor="middle">10.1. 非参数bootstrap方法</text></g>
<!-- branch 9 -->
<g id="n9-1"><rect class="pk" x="687" y="563" width="196" height="26"/><text class="wl" x="785" y="576" text-anchor="middle">9.1. 单因素试验的方差分析</text></g>
<g id="n9-1-1"><text class="tl" x="651" y="561" text-anchor="end">9.1.1. 随机误差</text></g>
<g id="n9-1-2"><text class="tl" x="651" y="589" text-anchor="end">9.1.2. 不同水平效应</text></g>
<g id="n9-2"><rect class="pk" x="729" y="605" width="154" height="26"/><text class="wl" x="806" y="618" text-anchor="middle">9.2. 双因素方差分析</text></g>
<g id="n9-2-1"><text class="tl" x="693" y="617" text-anchor="end">9.2.1. 存在对各不太水平效应</text></g>
<g id="n9-3"><rect class="pk" x="743" y="661" width="140" height="26"/><text class="wl" x="813" y="674" text-anchor="middle">9.3. 一元线性回归</text></g>
<g id="n9-3-1"><text class="tl" x="707" y="646" text-anchor="end">9.3.1. 研究相关关系</text></g>
<g id="n9-3-2"><text class="tl" x="703" y="673" text-anchor="end">9.3.2. 线性假设的显著性检验（对b进行检验）</text></g>
<g id="n9-3-3"><text class="tl" x="707" y="701" text-anchor="end">9.3.3. 转换其他例子作为线性模型</text></g>
<g id="n9-4"><rect class="pk" x="743" y="717" width="140" height="26"/><text class="wl" x="813" y="730" text-anchor="middle">9.4. 多元线性回归</text></g>
<g id="n9-4-1"><text class="tl" x="707" y="729" text-anchor="end">9.4.1. 最大似然估计每个元的合适值</text></g>
<!-- branch 8 -->
<g id="n8-1"><rect class="pk" x="851" y="786" width="113" height="26"/><text class="wl" x="907.5" y="799" text-anchor="middle">8.1. 假设检验</text></g>
<g id="n8-1-1"><text class="tl" x="814" y="784" text-anchor="end">8.1.1. 检验统计量估计</text></g>
<g id="n8-1-2"><text class="tl" x="814" y="812" text-anchor="end">8.1.2. 检验置偏差量k，显著性指标α</text></g>
<g id="n8-2"><rect class="pk" x="753" y="828" width="211" height="26"/><text class="wl" x="858.5" y="841" text-anchor="middle">8.2. 正态总体均值的假设检验</text></g>
<g id="n8-2-1"><text class="tl" x="717" y="840" text-anchor="end">8.2.1. 检验统计量</text></g>
<g id="n8-3"><rect class="pk" x="753" y="858" width="211" height="26"/><text class="wl" x="858.5" y="871" text-anchor="middle">8.3. 正态总体方差的假设检验</text></g>
<g id="n8-3-1"><text class="tl" x="717" y="870" text-anchor="end">8.3.1. s</text></g>
<g id="n8-4"><rect class="pk" x="739" y="887" width="225" height="26"/><text class="wl" x="851.5" y="900" text-anchor="middle">8.4. 置信区间与假设检验的关系</text></g>
<g id="n8-5"><rect class="pk" x="823" y="917" width="141" height="26"/><text class="wl" x="893.5" y="930" text-anchor="middle">8.5. 样本容量选择</text></g>
<g id="n8-6"><rect class="pk" x="851" y="946" width="113" height="26"/><text class="wl" x="907.5" y="959" text-anchor="middle">8.6. 秩和检验</text></g>
<g id="n8-6-1"><text class="tl" x="814" y="958" text-anchor="end">8.6.1. 秩服从正态分布</text></g>
<g id="n8-7"><rect class="pk" x="746" y="976" width="218" height="26"/><text class="wl" x="855" y="989" text-anchor="middle">8.7. 假设检验问题的p值检验法</text></g>
<!-- branch 7 -->
<g id="n7-1"><rect class="pk" x="865" y="1066" width="99" height="26"/><text class="wl" x="914.5" y="1079" text-anchor="middle">7.1. 点估计</text></g>
<g id="n7-1-1"><text class="tl" x="829" y="1043" text-anchor="end">7.1.1. 估计量X和估计值x的区别</text></g>
<g id="n7-1-2"><text class="tl" x="404" y="1079">7.1.2.</text><text class="tl" x="451" y="1071">矩估计法：总体服从某种分布，用样本k阶矩总体k阶矩分布相同，</text><text class="tl" x="451" y="1087">总体分布参数一般含有未知参数</text></g>
<g id="n7-1-3"><text class="tl" x="829" y="1113" text-anchor="end">7.1.3. 最大似然函数</text></g>
<g id="n7-2"><rect class="pk" x="795" y="1156" width="169" height="26"/><text class="wl" x="879.5" y="1169" text-anchor="middle">7.2. 估计量的评选标准</text></g>
<g id="n7-2-1"><text class="tl" x="759" y="1141" text-anchor="end">7.2.1. 无偏性</text></g>
<g id="n7-2-2"><text class="tl" x="759" y="1168" text-anchor="end">7.2.2. 有效性</text></g>
<g id="n7-2-3"><text class="tl" x="759" y="1196" text-anchor="end">7.2.3. 相合性</text></g>
<g id="n7-3"><rect class="pk" x="781" y="1212" width="183" height="26"/><text class="wl" x="872.5" y="1225" text-anchor="middle">7.3. 区间估计：置信区间</text></g>
<g id="n7-4"><rect class="pk" x="711" y="1241" width="253" height="26"/><text class="wl" x="837.5" y="1254" text-anchor="middle">7.4. 正态总体均值与方差的区间估计</text></g>
<!-- branch 6 -->
<g id="n6-1"><rect class="pk" x="806" y="1297" width="113" height="26"/><text class="wl" x="862.5" y="1310" text-anchor="middle">6.1. 随机样本</text></g>
<g id="n6-2"><rect class="pk" x="624" y="1327" width="295" height="26"/><text class="wl" x="771.5" y="1340" text-anchor="middle">6.2. 直方图和箱形图：可视化随机样本分布</text></g>
<g id="n6-3"><rect class="pk" x="583" y="1547" width="336" height="26"/><text class="wl" x="751" y="1560" text-anchor="middle">6.3. 抽样分布（评估总体和抽样样本关系的分布）</text></g>
<g id="n6-3-1"><text class="tl" x="547" y="1367" text-anchor="end">6.3.1. 随机分布存在某个函数的统计量，而统计量的分布称为随机分布</text></g>
<g id="n6-3-2"><text class="tl" x="45" y="1427">6.3.2. 卡方分布</text>
<rect class="im" x="145" y="1404" width="261" height="47"/>
<text class="m" x="167" y="1414" style="font-size:7.5px">设 X₁, X₂, …, Xₙ 是来自总体 N(0,1) 的样本, 则称统计量</text>
<text class="m" x="263" y="1429" style="font-size:7.5px;font-style:italic">χ² = X₁² + X₂² + … + Xₙ²</text>
<text class="m" x="148" y="1443" style="font-size:7.5px">服从自由度为 n 的 χ² 分布, 记为 χ²~χ²(n).</text>
<rect class="im" x="409" y="1388" width="141" height="80"/>
<path class="ax" d="M417 1390 V1462 H548"/>
<path d="M419 1391 C422 1430 440 1452 548 1461" fill="none" stroke="#222" stroke-width="0.9"/>
<path d="M418 1402 C428 1430 450 1450 548 1460" fill="none" stroke="#222" stroke-width="0.9"/>
<path d="M418 1460 C425 1425 432 1418 442 1421 C458 1428 480 1452 548 1460" fill="none" stroke="#222" stroke-width="0.9"/>
<path d="M418 1461 C432 1440 444 1428 456 1430 C472 1434 490 1452 548 1460" fill="none" stroke="#222" stroke-width="0.9"/>
<path d="M418 1462 C450 1460 478 1440 492 1441 C504 1442 515 1452 548 1459" fill="none" stroke="#222" stroke-width="0.9"/>
<text class="m" x="419" y="1392" style="font-size:4px">f(y)</text>
<text class="m" x="426" y="1402" style="font-size:4px">n=1</text>
<text class="m" x="441" y="1416" style="font-size:4px">n=4</text>
<text class="m" x="460" y="1426" style="font-size:4px">n=6</text>
<text class="m" x="496" y="1436" style="font-size:4px">n=11</text>
<text class="m" x="411" y="1396" style="font-size:3.5px">0.40</text>
<text class="m" x="411" y="1418" style="font-size:3.5px">0.30</text>
<text class="m" x="411" y="1440" style="font-size:3.5px">0.10</text>
<text class="m" x="416" y="1466" style="font-size:3.5px">0  1  2  3  4  5  6  7  8  9  10 11 12 13</text>
</g>
<g id="n6-3-3"><text class="tl" x="268" y="1547">6.3.3. t分布</text>
<rect class="im" x="348" y="1480" width="202" height="135"/>
<text class="m" x="382" y="1494" style="font-size:6px">设 X~N(0,1), Y~χ²(n), 且 X, Y 相互独立, 则称随机变量</text>
<text class="m" x="460" y="1500" style="font-size:6px;font-style:italic">t =  X</text>
<path d="M468 1504 H482" stroke="#222" stroke-width="0.5"/>
<text class="m" x="468" y="1509" style="font-size:5.5px;font-style:italic">√(Y/n)</text>
<text class="m" x="350" y="1514" style="font-size:6px">服从自由度为 n 的 <tspan font-weight="bold">t 分布</tspan>. 记为 t~t(n).</text>
<text class="m" x="356" y="1525" style="font-size:6px">t 分布又称学生氏(Student)分布. t(n) 分布的概率密度函数为</text>
<text class="m" x="390" y="1540" style="font-size:5.8px;font-style:italic">h(t) = Γ[(n+1)/2] / (√(nπ) Γ(n/2)) (1+t²/n)^(−(n+1)/2),  −∞&lt;t&lt;∞</text>
<path class="ax" d="M402 1606 H538 M470 1557 V1608"/>
<path d="M402 1605 C440 1604 452 1568 470 1568 C488 1568 500 1604 538 1605" fill="none" stroke="#111" stroke-width="1"/>
<path d="M402 1604.5 C440 1603 452 1571 470 1571 C488 1571 500 1603 538 1604.5" fill="none" stroke="#222" stroke-width="0.8" stroke-dasharray="2,1"/>
<path d="M402 1603 C440 1601 452 1574 470 1574 C488 1574 500 1601 538 1603" fill="none" stroke="#222" stroke-width="0.8" stroke-dasharray="1.2,1.2"/>
<path d="M402 1600 C440 1596 452 1579 470 1579 C488 1579 500 1596 538 1600" fill="none" stroke="#222" stroke-width="0.8" stroke-dasharray="3,1,1,1"/>
<text class="m" x="472" y="1559" style="font-size:4px">h(t)</text>
<text class="m" x="511" y="1555" style="font-size:4px">n</text>
<path d="M502 1560 H522" stroke="#111" stroke-width="1"/>
<path d="M502 1568 H522" stroke="#222" stroke-width="0.8" stroke-dasharray="2,1"/>
<path d="M502 1576 H522" stroke="#222" stroke-width="0.8" stroke-dasharray="1.2,1.2"/>
<path d="M502 1584 H522" stroke="#222" stroke-width="0.8" stroke-dasharray="3,1,1,1"/>
<text class="m" x="526" y="1560" style="font-size:4.5px">∞</text>
<text class="m" x="526" y="1568" style="font-size:4.5px">25</text>
<text class="m" x="526" y="1576" style="font-size:4.5px">5</text>
<text class="m" x="526" y="1584" style="font-size:4.5px">2</text>
<text class="m" x="401" y="1612" style="font-size:4px">−4     −3     −2     −1      0      1      2      3      4</text>
</g>
<g id="n6-3-4"><text class="tl" x="33" y="1678">6.3.4. F分布</text>
<rect class="im" x="114" y="1652" width="260" height="53"/>
<text class="m" x="139" y="1660" style="font-size:7.5px">设 U~χ²(n₁), V~χ²(n₂), 且 U, V 相互独立, 则称随机变量</text>
<text class="m" x="258" y="1680" style="font-size:7px;font-style:italic">F=</text>
<text class="m" x="272" y="1675" style="font-size:6.5px;font-style:italic">U/n₁</text>
<path d="M270 1680 H290" stroke="#222" stroke-width="0.5"/>
<text class="m" x="272" y="1686" style="font-size:6.5px;font-style:italic">V/n₂</text>
<text class="m" x="121" y="1698" style="font-size:7.5px">服从自由度为(n₁, n₂)的 F 分布, 记为 F~F(n₁, n₂).</text>
<rect class="im" x="379" y="1627" width="171" height="103"/>
<path class="ax" d="M387 1632 V1725 H543"/>
<path d="M388 1724 C398 1690 404 1650 411 1650 C420 1650 430 1700 460 1716 C490 1722 520 1723 540 1723" fill="none" stroke="#111" stroke-width="1"/>
<path d="M388 1724 C392 1700 396 1677 400 1677 C408 1677 420 1700 445 1712 C480 1720 520 1722 540 1722" fill="none" stroke="#111" stroke-width="1"/>
<path d="M416 1664 L433 1656 M482 1712 L490 1702" stroke="#222" stroke-width="0.5"/>
<text class="m" x="389" y="1635" style="font-size:4.5px">ψ(y)</text>
<text class="m" x="434" y="1655" style="font-size:4.5px">(n₁,n₂)=(10,40)</text>
<text class="m" x="487" y="1699" style="font-size:4.5px">(n₁,n₂)=(11,3)</text>
<text class="m" x="381" y="1728" style="font-size:5px">O</text>
<text class="m" x="419" y="1729" style="font-size:4.5px">1</text>
<text class="m" x="455" y="1729" style="font-size:4.5px">2</text>
<text class="m" x="490" y="1729" style="font-size:4.5px">3</text>
<text class="m" x="544" y="1721" style="font-size:5px">y</text>
</g>
<g id="n6-3-5"><text class="tl" x="547" y="1747" text-anchor="end">6.3.5. 正态总体的样本均值与样本方差的分布</text></g>
</svg>
